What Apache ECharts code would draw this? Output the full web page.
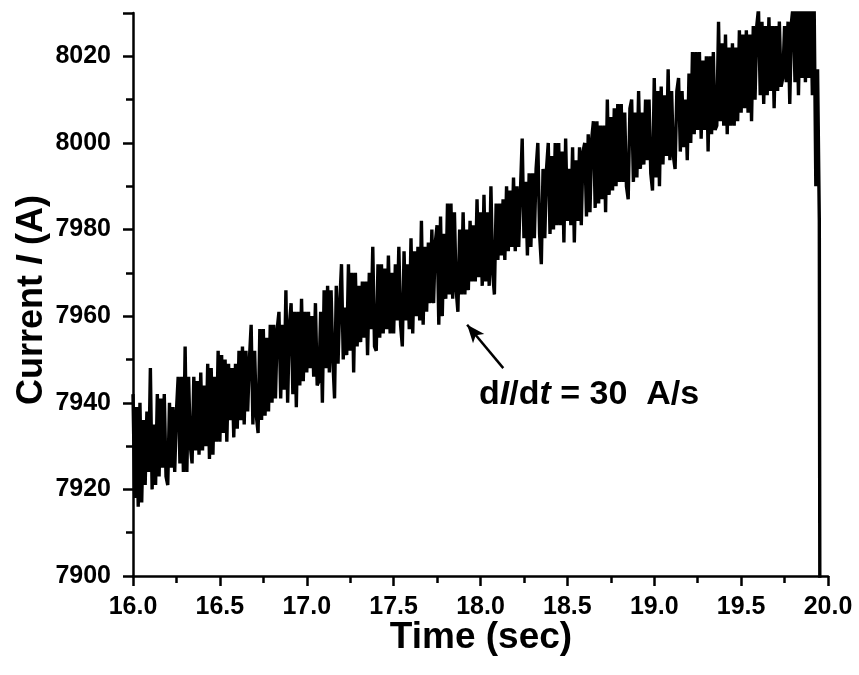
<!DOCTYPE html>
<html>
<head>
<meta charset="utf-8">
<script src="https://cdn.jsdelivr.net/npm/echarts@6/dist/echarts.min.js"></script>
<style>
html,body{margin:0;padding:0;background:#fff;}
#chart{width:859px;height:675px;}
</style>
</head>
<body>
<div id="chart"></div>
<script>
// Sampling of the recorded current trace
const startTime = 16.0;   // s
const sampleStep = 0.01;  // s

// Current I (A), one value per 0.01 s
const current16 = [
  7942, 7918, 7939, 7916, 7940, 7917, 7936, 7921, 7938, 7924,
  7948, 7920, 7935, 7921, 7942, 7923, 7941, 7925, 7942, 7923,
  7921, 7940, 7925, 7939, 7924, 7938, 7946, 7926, 7946, 7924,
  7953, 7924, 7946, 7930, 7926, 7946, 7929, 7945, 7928, 7947,
  7929, 7944, 7930, 7949, 7927, 7948, 7928, 7946, 7931, 7952,
  7931, 7951, 7933, 7950, 7931, 7949, 7936, 7948, 7932, 7949,
  7934, 7952, 7936, 7953, 7935, 7952, 7938, 7950, 7958, 7935,
  7952, 7937, 7933, 7957, 7936, 7957, 7937, 7955, 7938, 7958,
  7940, 7958, 7941, 7957, 7961, 7941, 7958, 7943, 7966, 7940,
  7958, 7963, 7942, 7961, 7939, 7961, 7944, 7964, 7945, 7961
];
const current17 = [
  7947, 7961, 7948, 7960, 7946, 7963, 7944, 7945, 7961, 7940,
  7966, 7948, 7967, 7947, 7966, 7950, 7941, 7967, 7949, 7963,
  7972, 7950, 7962, 7951, 7972, 7952, 7970, 7947, 7970, 7953,
  7967, 7954, 7968, 7955, 7968, 7951, 7970, 7957, 7976, 7953,
  7952, 7972, 7955, 7972, 7956, 7971, 7957, 7974, 7956, 7970,
  7956, 7972, 7959, 7976, 7958, 7953, 7975, 7959, 7972, 7957,
  7978, 7956, 7975, 7960, 7976, 7959, 7982, 7958, 7976, 7961,
  7977, 7963, 7980, 7963, 7977, 7981, 7958, 7983, 7960, 7979,
  7964, 7986, 7965, 7986, 7964, 7984, 7966, 7961, 7980, 7965,
  7984, 7965, 7980, 7966, 7982, 7968, 7981, 7968, 7987, 7969
];
const current18 = [
  7984, 7967, 7988, 7968, 7984, 7967, 7990, 7970, 7965, 7986,
  7973, 7986, 7974, 7987, 7973, 7990, 7975, 7989, 7976, 7992,
  7975, 7990, 7976, 7989, 8001, 7978, 7991, 7974, 7993, 7976,
  7993, 7978, 7994, 8000, 7979, 7972, 7994, 7978, 7994, 8000,
  7979, 7997, 7980, 8000, 7981, 8000, 7981, 7998, 7977, 8001,
  7982, 7994, 7981, 7999, 7977, 7996, 7982, 7999, 7981, 7998,
  8000, 7983, 8002, 7984, 8001, 8005, 7985, 8005, 7986, 8004,
  7987, 8004, 7984, 8010, 7988, 8006, 7989, 8008, 7990, 8009,
  7991, 8009, 7991, 8007, 7990, 7987, 8008, 8010, 7991, 8007,
  7992, 8012, 7994, 8007, 7995, 8010, 7996, 8010, 7993, 7989
];
const current19 = [
  8015, 7992, 8012, 7990, 8013, 7995, 8011, 7997, 8017, 7996,
  8012, 7997, 7994, 8012, 8015, 7998, 8012, 7999, 8010, 7996,
  8016, 8000, 8021, 8002, 8021, 8003, 8021, 8001, 8019, 8003,
  8020, 7998, 8020, 8002, 8021, 8003, 8004, 8028, 8005, 8023,
  8004, 8025, 8002, 8022, 8004, 8023, 8004, 8022, 8005, 8026,
  8007, 8025, 8008, 8026, 8007, 8025, 8005, 8027, 8010, 8027,
  8031, 8011, 8028, 8009, 8027, 8011, 8029, 8012, 8027, 8008,
  8027, 8012, 8028, 8013, 8015, 8027, 8014, 8028, 8009, 8028,
  8032, 8014, 8033, 8011, 8032, 8015, 8034, 8014, 8033, 8015,
  8034, 8011, 8033, 7990, 8017, 7982, 7700
];

// Axis settings
const xTicks = { min: 16, max: 20, step: 0.5 };
const yTicks = { min: 7900, max: 8030, step: 20 };

// Annotation: arrow (tail -> head) in data coordinates
const arrowTail = [18.131, 7948.0];
const arrowHead = [17.923, 7958.0];

const FONT = 'Liberation Sans, Arial, Helvetica, sans-serif';

const allValues = [].concat(current16, current17, current18, current19);
const seriesData = allValues.map((v, i) => [+(startTime + i * sampleStep).toFixed(2), v]);

const chart = echarts.init(document.getElementById('chart'), null, { renderer: 'canvas' });

const axisStyle = { color: '#000', width: 2.5 };
const boldTxt = { fontFamily: FONT, fontWeight: 'bold', color: '#000', fill: '#000' };

chart.setOption({
  animation: false,
  backgroundColor: '#fff',
  grid: { left: 133, right: 31, top: 13, bottom: 99, containLabel: false, outerBoundsMode: 'none' },
  xAxis: {
    type: 'value',
    min: xTicks.min, max: xTicks.max, interval: xTicks.step,
    axisLine: { show: true, onZero: false, lineStyle: axisStyle },
    axisTick: { show: true, inside: false, length: 10, lineStyle: axisStyle },
    minorTick: { show: true, splitNumber: 2, length: 7, lineStyle: axisStyle },
    splitLine: { show: false }, minorSplitLine: { show: false },
    axisLabel: { formatter: v => v.toFixed(1), fontSize: 25, fontWeight: 'bold', fontFamily: FONT, color: '#000', margin: 19 }
  },
  yAxis: {
    type: 'value',
    min: yTicks.min, max: yTicks.max, interval: yTicks.step,
    axisLine: { show: true, onZero: false, lineStyle: axisStyle },
    axisTick: { show: true, inside: false, length: 10, lineStyle: axisStyle },
    minorTick: { show: true, splitNumber: 2, length: 7, lineStyle: axisStyle },
    splitLine: { show: false }, minorSplitLine: { show: false },
    axisLabel: { showMaxLabel: false, formatter: v => String(v), fontSize: 25, fontWeight: 'bold', fontFamily: FONT, color: '#000', margin: 22 }
  },
  series: [{
    type: 'line',
    data: seriesData,
    showSymbol: false,
    symbol: 'none',
    clip: true,
    sampling: null,
    lineStyle: { color: '#000', width: 3.4 },
    silent: true,
    markLine: {
      silent: true,
      animation: false,
      symbol: ['none', 'arrow'],
      symbolSize: [10, 18],
      lineStyle: { color: '#000', width: 2.5, type: 'solid' },
      label: { show: false },
      emphasis: { disabled: true },
      data: [[{ coord: arrowTail, symbol: 'none' }, { coord: arrowHead, symbol: 'arrow', symbolSize: [11, 18] }]]
    }
  }],
  graphic: [
    {
      type: 'text', x: 481, y: 638,
      style: { text: 'Time (sec)', font: 'bold 37px ' + FONT, fill: '#000', align: 'center', verticalAlign: 'middle' }
    },
    {
      type: 'text', x: 32, y: 300, rotation: Math.PI / 2,
      style: {
        text: '{b|Current }{i|I}{b| (A)}',
        rich: {
          b: Object.assign({ fontSize: 36 }, boldTxt),
          i: Object.assign({ fontSize: 36, fontStyle: 'italic' }, boldTxt)
        },
        align: 'center', verticalAlign: 'middle', fill: '#000'
      }
    },
    {
      type: 'text', x: 479, y: 395,
      style: {
        text: '{b|d}{i|I}{b|/d}{i|t}{b| = 30  A/s}',
        rich: {
          b: Object.assign({ fontSize: 34 }, boldTxt),
          i: Object.assign({ fontSize: 34, fontStyle: 'italic' }, boldTxt)
        },
        align: 'left', verticalAlign: 'middle', fill: '#000'
      }
    }
  ]
});
</script>
</body>
</html>
